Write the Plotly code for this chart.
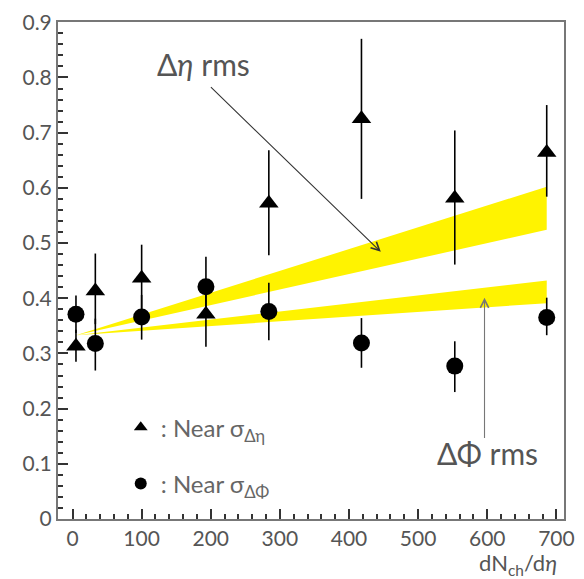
import plotly.graph_objects as go

# ---- data ----
mult = [5, 33, 100, 193, 284, 418, 553, 686]

sigma_eta = [0.313, 0.413, 0.436, 0.371, 0.572, 0.725, 0.581, 0.664]
eta_err_hi = [0.030, 0.068, 0.061, 0.060, 0.096, 0.145, 0.123, 0.086]
eta_err_lo = [0.028, 0.060, 0.060, 0.059, 0.094, 0.145, 0.120, 0.080]

sigma_phi = [0.371, 0.318, 0.366, 0.421, 0.376, 0.319, 0.277, 0.365]
phi_err_hi = [0.034, 0.045, 0.040, 0.054, 0.052, 0.045, 0.045, 0.036]
phi_err_lo = [0.034, 0.049, 0.041, 0.054, 0.052, 0.045, 0.047, 0.032]

band_x = [5, 686]
eta_band_lo = [0.333, 0.524]
eta_band_hi = [0.333, 0.602]
phi_band_lo = [0.333, 0.391]
phi_band_hi = [0.333, 0.432]

x_ticks = [0, 100, 200, 300, 400, 500, 600, 700]
y_ticks = [0, 0.1, 0.2, 0.3, 0.4, 0.5, 0.6, 0.7, 0.8, 0.9]

FONT = "Lato"
TXT = "#555555"
YELLOW = "#FFF300"

fig = go.Figure()

for lo, hi in [(eta_band_lo, eta_band_hi), (phi_band_lo, phi_band_hi)]:
    fig.add_trace(go.Scatter(
        x=band_x + band_x[::-1], y=lo + hi[::-1],
        fill="toself", fillcolor=YELLOW, mode="lines",
        line=dict(width=0, color=YELLOW), showlegend=False, hoverinfo="skip"))

fig.add_trace(go.Scatter(
    x=mult, y=sigma_eta, mode="markers",
    marker=dict(symbol="triangle-up", size=17, color="black"),
    error_y=dict(type="data", symmetric=False, array=eta_err_hi, arrayminus=eta_err_lo,
                 color="black", thickness=1.6, width=0),
    name=": Near σ<sub>Δη</sub>", legendgroup="a"))

fig.add_trace(go.Scatter(
    x=mult, y=sigma_phi, mode="markers",
    marker=dict(symbol="circle", size=17, color="black"),
    error_y=dict(type="data", symmetric=False, array=phi_err_hi, arrayminus=phi_err_lo,
                 color="black", thickness=1.6, width=0),
    name=": Near σ<sub>ΔΦ</sub>", legendgroup="b"))

axis_common = dict(
    showgrid=False, zeroline=False, showline=True, linecolor="#777777", linewidth=2,
    mirror=True, ticks="inside", ticklen=10, tickwidth=1.5, tickcolor="#333333",
    tickfont=dict(family=FONT, size=21, color=TXT), ticklabeloverflow="allow",
)

fig.update_xaxes(range=[-21, 711], tickvals=x_ticks,
                 minor=dict(tick0=0, dtick=20, ticks="inside", ticklen=5, tickcolor="#333333", showgrid=False),
                 **axis_common)
fig.update_yaxes(range=[0, 0.9005], tickvals=y_ticks,
                 minor=dict(tick0=0, dtick=0.02, ticks="inside", ticklen=5, tickcolor="#333333", showgrid=False),
                 **axis_common)

# arrows
fig.add_annotation(x=446, y=0.484, ax=198, ay=0.785, axref="x", ayref="y",
                   xref="x", yref="y", text="", showarrow=True,
                   arrowhead=5, arrowsize=1.5, arrowwidth=1.1, arrowcolor="#333333")
fig.add_annotation(x=596, y=0.401, ax=596, ay=0.144, axref="x", ayref="y",
                   xref="x", yref="y", text="", showarrow=True,
                   arrowhead=5, arrowsize=1.5, arrowwidth=1.1, arrowcolor="#777777")

fig.add_annotation(x=190, y=0.824, xref="x", yref="y", text="Δ<i>η</i> rms",
                   showarrow=False, font=dict(family=FONT, size=30, color=TXT))
fig.add_annotation(x=600, y=0.119, xref="x", yref="y", text="ΔΦ rms",
                   showarrow=False, font=dict(family=FONT, size=30, color=TXT))

fig.add_annotation(x=0.99, y=-0.091, xref="paper", yref="paper", xanchor="right",
                   yanchor="middle", text="dN<sub>ch</sub>/d<i>η</i>", showarrow=False,
                   font=dict(family=FONT, size=22, color=TXT))

fig.update_layout(
    width=584, height=579,
    margin=dict(l=58, r=9, t=12, b=60),
    plot_bgcolor="white", paper_bgcolor="white",
    showlegend=True,
    legend=dict(x=0.124, y=0.229, xanchor="left", yanchor="top",
                font=dict(family=FONT, size=24, color="#666666"),
                bgcolor="rgba(0,0,0,0)", tracegroupgap=22, itemsizing="constant"),
)

fig.write_html("out.html", config={"displayModeBar": False},
               post_script="document.body.style.margin='0';")
